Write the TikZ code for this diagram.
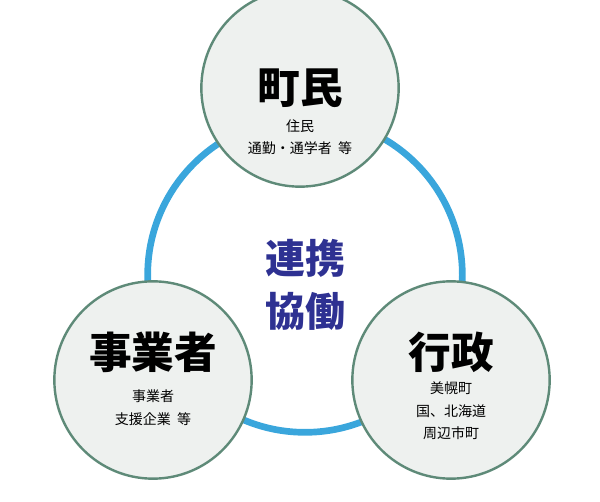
\documentclass[tikz,border=0pt]{standalone}
\usepackage{fontspec}
\setmainfont{Noto Sans CJK JP}
\usetikzlibrary{positioning}
\definecolor{cRing}{HTML}{3AA6DC}
\definecolor{cEdge}{HTML}{5E8A78}
\definecolor{cFill}{HTML}{EEF1EF}
\definecolor{cNavy}{HTML}{2E3192}
\tikzset{partyblob/.style={
  shape=circle,
  draw=cEdge,
  line width=1.8pt,
  fill=cFill,
  minimum size=148pt,
  inner sep=0pt,
  }
}
\tikzset{partytitle/.style={
  font=\bfseries\fontsize{32}{34}\selectfont,
  text=black,
  }
}
\tikzset{partynote/.style={
  font=\fontsize{10.5}{17}\selectfont,
  align=center,
  text=black,
  }
}
\begin{document}
\begin{tikzpicture}[x=0.75pt,y=-0.75pt]
  \useasboundingbox (0,0) rectangle (600,502);
  \node [circle, draw=cRing, line width=5pt, minimum size=236pt] (ring) at (305,275) {};
  \node [font=\bfseries\fontsize{30}{40}\selectfont, text=cNavy, align=center] (core) at (305,285) {連携\\協働};

  \node [partyblob] (p1) at (300,88) {};
  \node [partyblob] (p2) at (153,380) {};
  \node [partyblob] (p3) at (451,380) {};

  \node [partytitle] (t1) at (300,88) {町民};
  \node [partynote, below=2pt of t1] (n1) {住民\\通勤・通学者\ \ 等};
  \node [partytitle] (t2) at (153,352) {事業者};
  \node [partynote, below=6pt of t2] (n2) {事業者\\支援企業\ \ 等};
  \node [partytitle] (t3) at (451,352) {行政};
  \node [partynote, below=0pt of t3] (n3) {美幌町\\国、北海道\\周辺市町};
\end{tikzpicture}
\end{document}
